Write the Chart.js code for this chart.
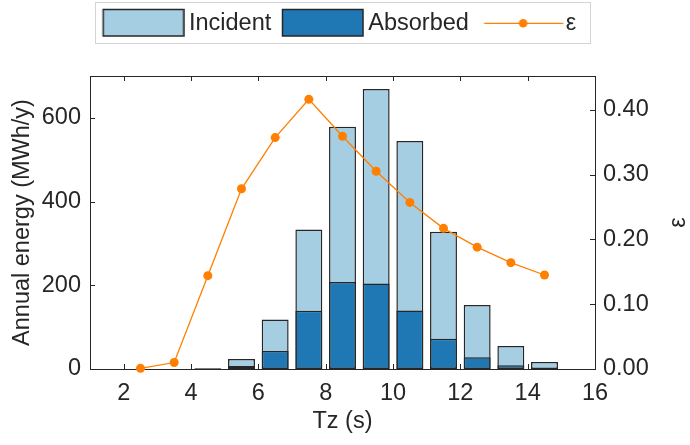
<!DOCTYPE html>
<html>
<head>
<meta charset="utf-8">
<script src="https://cdn.jsdelivr.net/npm/chart.js@4/dist/chart.umd.min.js"></script>
<style>
html,body{margin:0;padding:0;background:#ffffff;}
#wrap{width:690px;height:445px;}
</style>
</head>
<body>
<div id="wrap"><canvas id="c" width="690" height="445"></canvas></div>
<script>
// ---- data ----
const tz       = [2.5, 3.5, 4.5, 5.5, 6.5, 7.5, 8.5, 9.5, 10.5, 11.5, 12.5, 13.5, 14.5];
const incident = [0, 0, 2, 24, 118, 333, 579, 669, 545, 328, 153, 55, 17];
const absorbed = [0, 0, 0.3, 7, 43, 139, 208, 204, 140, 72, 28, 9, 3];
const epsilon  = [0.001, 0.010, 0.144, 0.278, 0.357, 0.416, 0.359, 0.305, 0.257, 0.217, 0.188, 0.164, 0.145];

const xTicks = [2, 4, 6, 8, 10, 12, 14, 16];
const yTicks = [0, 200, 400, 600];
const eTicks = [0, 0.1, 0.2, 0.3, 0.4];

const labels = ['Incident', 'Absorbed', 'ε'];
const xTitle = 'Tz (s)';
const yTitle = 'Annual energy (MWh/y)';
const eTitle = 'ε';

// ---- styles ----
const C_INC = '#a6cee3';
const C_ABS = '#1f78b4';
const C_EPS = '#ff7f00';
const C_AX  = '#262626';
const FONT  = '"Liberation Sans", Arial, Helvetica, sans-serif';
const FS = 23.5;

Chart.defaults.font.family = FONT;
Chart.defaults.font.size = FS;
Chart.defaults.color = C_AX;

function boxImage(fill) {
  const c = document.createElement('canvas');
  c.width = 88; c.height = 32;
  const g = c.getContext('2d');
  g.fillStyle = fill;
  g.fillRect(6.5, 1.5, 80.5, 26.5);
  g.strokeStyle = C_AX; g.lineWidth = 1.5;
  g.strokeRect(6.5, 1.5, 80.5, 26.5);
  return c;
}
function lineImage() {
  const c = document.createElement('canvas');
  c.width = 92; c.height = 32;
  const g = c.getContext('2d');
  g.strokeStyle = C_EPS; g.lineWidth = 1.3;
  g.beginPath(); g.moveTo(12.5, 15.3); g.lineTo(91.5, 15.3); g.stroke();
  g.fillStyle = C_EPS;
  g.beginPath(); g.arc(51.5, 15.3, 4.3, 0, Math.PI * 2); g.fill();
  return c;
}
const legendImgs = [boxImage(C_INC), boxImage(C_ABS), lineImage()];

const pts = (arr) => tz.map((x, i) => ({x: x, y: arr[i]}));

const frame = {
  id: 'frame',
  beforeDatasetsDraw(chart) {
    const {ctx, chartArea: a, scales} = chart;
    const L = 5;
    ctx.save();
    ctx.strokeStyle = C_AX;
    ctx.lineWidth = 1;
    ctx.beginPath();
    const top = Math.round(a.top) + 0.5;
    ctx.moveTo(a.left, top); ctx.lineTo(a.right, top);
    xTicks.forEach(v => {
      const px = Math.round(scales.x.getPixelForValue(v)) + 0.5;
      ctx.moveTo(px, a.bottom); ctx.lineTo(px, a.bottom - L);
      ctx.moveTo(px, a.top); ctx.lineTo(px, a.top + L);
    });
    yTicks.forEach(v => {
      const py = Math.round(scales.y.getPixelForValue(v)) + 0.5;
      ctx.moveTo(a.left, py); ctx.lineTo(a.left + L, py);
    });
    eTicks.forEach(v => {
      const py = Math.round(scales.y1.getPixelForValue(v)) + 0.5;
      ctx.moveTo(a.right, py); ctx.lineTo(a.right - L, py);
    });
    ctx.stroke();
    ctx.restore();
  },
  afterDraw(chart) {
    const {ctx, chartArea: a} = chart;
    const lg = chart.legend;
    if (lg && lg.legendHitBoxes && lg.legendHitBoxes.length) {
      const hb = lg.legendHitBoxes;
      const l = Math.round(hb[0].left - 9) + 0.5;
      const last = hb[hb.length - 1];
      const r = Math.round(last.left + last.width + 14) + 0.5;
      ctx.save();
      ctx.strokeStyle = '#d4d4d4';
      ctx.lineWidth = 1;
      ctx.strokeRect(l, lg.top + 2.5, r - l, 41);
      ctx.restore();
    }
    // right axis title, rotated like the reference
    ctx.save();
    ctx.translate(679, (a.top + a.bottom) / 2);
    ctx.rotate(-Math.PI / 2);
    ctx.font = FS + 'px ' + FONT;
    ctx.fillStyle = C_AX;
    ctx.textAlign = 'center';
    ctx.textBaseline = 'middle';
    ctx.fillText(eTitle, 0, 0);
    ctx.restore();
  }
};

new Chart(document.getElementById('c'), {
  type: 'bar',
  data: {
    datasets: [
      {
        label: labels[0], data: pts(incident), order: 3, grouped: false,
        backgroundColor: C_INC, borderColor: C_AX, borderWidth: 1.5, borderSkipped: false,
        categoryPercentage: 1, barPercentage: 0.8, yAxisID: 'y', xAxisID: 'x'
      },
      {
        label: labels[1], data: pts(absorbed), order: 2, grouped: false,
        backgroundColor: C_ABS, borderColor: C_AX, borderWidth: 1.5, borderSkipped: false,
        categoryPercentage: 1, barPercentage: 0.8, yAxisID: 'y', xAxisID: 'x'
      },
      {
        type: 'line', label: labels[2], data: pts(epsilon), order: 1,
        borderColor: C_EPS, backgroundColor: C_EPS, borderWidth: 1.3,
        pointRadius: 4.5, pointBorderWidth: 0, pointBackgroundColor: C_EPS,
        tension: 0, clip: false, yAxisID: 'y1', xAxisID: 'x'
      }
    ]
  },
  options: {
    responsive: false,
    animation: false,
    devicePixelRatio: 1,
    layout: { padding: { left: 0, right: 9.5, top: 0, bottom: 0 } },
    plugins: {
      tooltip: { enabled: false },
      title: {
        display: true, text: '', weight: 500,
        font: { size: 1, lineHeight: 1 }, padding: { top: 0, bottom: 29.25 }
      },
      legend: {
        display: true, position: 'top', align: 'center', weight: 1000,
        labels: {
          usePointStyle: true, pointStyleWidth: 73, padding: 12.25,
          font: { size: FS, family: FONT }, color: C_AX,
          generateLabels: (chart) => labels.map((t, i) => ({
            text: t, pointStyle: legendImgs[i], datasetIndex: i,
            fontColor: C_AX, lineWidth: 0, hidden: false
          }))
        }
      }
    },
    scales: {
      x: {
        type: 'linear', position: 'bottom', min: 1, max: 16, offset: false,
        grid: { display: false, drawTicks: false, offset: false },
        border: { display: true, color: C_AX, width: 1 },
        ticks: { padding: 10, font: { size: FS }, color: C_AX, maxRotation: 0, autoSkip: false },
        title: { display: true, text: xTitle, font: { size: FS }, color: C_AX, padding: { top: 0, bottom: 9 } },
        afterBuildTicks: (s) => { s.ticks = xTicks.map(v => ({value: v})); },
        afterFit: (s) => { s.height = 76; }
      },
      y: {
        type: 'linear', position: 'left', min: 0, max: 700,
        grid: { display: false, drawTicks: false },
        border: { display: true, color: C_AX, width: 1 },
        ticks: { padding: 9, font: { size: FS }, color: C_AX },
        title: { display: true, text: yTitle, font: { size: FS }, color: C_AX, padding: { top: 8, bottom: 0 } },
        afterBuildTicks: (s) => { s.ticks = yTicks.map(v => ({value: v})); },
        afterFit: (s) => { s.width = 90; }
      },
      y1: {
        type: 'linear', position: 'right', min: 0, max: 0.452,
        grid: { display: false, drawTicks: false },
        border: { display: true, color: C_AX, width: 1 },
        ticks: { padding: 8, font: { size: FS }, color: C_AX, callback: (v) => Number(v).toFixed(2) },
        title: { display: false },
        afterBuildTicks: (s) => { s.ticks = eTicks.map(v => ({value: v})); },
        afterFit: (s) => { s.width = 85.5; }
      }
    }
  },
  plugins: [frame]
});
</script>
</body>
</html>
